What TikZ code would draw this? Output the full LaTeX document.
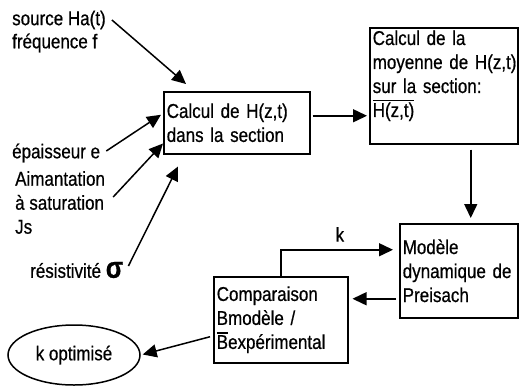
\documentclass[tikz,border=0pt]{standalone}
\usepackage{fontspec}
\setmainfont[FakeStretch=0.85, FakeBold=0.6]{Liberation Sans}
\usepackage{tikz}
\usetikzlibrary{positioning, shapes.geometric, arrows.meta, calc}
\newcommand{\ovl}[1]{\leavevmode\setbox0\hbox{#1}\rlap{\rule[\dimexpr\ht0+1.5pt\relax]{\wd0}{1.2pt}}\box0}

\begin{document}
\begin{tikzpicture}[x=1pt, y=-1pt,
        every node/.style={font=\fontsize{20}{24}\selectfont},
        box/.style={draw, line width=1.5pt, anchor=north west, align=left, inner xsep=3pt, inner ysep=2pt},
        lbl/.style={align=left, anchor=west, inner sep=0pt},
        arr/.style={-{Triangle[length=14pt,width=13pt]}, line width=1.5pt}]
        \useasboundingbox (0,0) rectangle (519,386);
        \node[box, text width=140pt, minimum height=62pt] (calc) at (163,91) {Calcul de H(z,t)\\dans la section};
        \node[box, text width=142pt, minimum height=116pt] (moy) at (369,27) {Calcul de la\\\mbox{moyenne de H(z,t)}\\sur la section:\\\ovl{H(z,t)}\\\mbox{}};
        \node[box, text width=112pt, minimum height=94pt] (preis) at (399,223) {Modèle\\\mbox{dynamique de}\\Preisach};
        \node[box, text width=128pt, minimum height=86pt] (comp) at (213,276) {Comparaison\\Bmodèle /\\\ovl{B}expérimental};
        \node[draw, ellipse, line width=1.5pt, minimum width=132pt, minimum height=60pt] (kopt) at (74,355) {k optimisé};
        \node[lbl] (src) at (12,20) {source Ha(t)};
        \node[lbl] (freq) at (12,43) {fréquence f};
        \node[lbl] (epais) at (12,153) {épaisseur e};
        \node[lbl, anchor=north west] (aim) at (15,171) {Aimantation\\à saturation\\Js};
        \node[lbl] (res) at (30,270) {résistivité {\fontsize{30}{30}\bfseries σ}};
        \draw[arr] ([xshift=6pt]src.east) -- ([shift={(23,-7)}]calc.north west);
        \draw[arr] ([shift={(6,-2)}]epais.east) -- ([shift={(-2,-8)}]calc.west);
        \draw[arr] ([shift={(8,26)}]aim.north east) -- ([shift={(0,-11)}]calc.south west);
        \draw[arr] ([shift={(5,-4)}]res.east) -- ([shift={(15,12)}]calc.south west);
        \draw[arr, shorten <=2pt, shorten >=2pt] ([yshift=7pt]calc.east) -- ([yshift=7pt]calc.east -| moy.west);
        \draw[arr, shorten <=5pt, shorten >=5pt] ([xshift=12pt]preis.north |- moy.south) -- ([xshift=12pt]preis.north);
        \draw[arr, shorten <=3pt, shorten >=4pt] ([yshift=-28pt]preis.west) -- ([yshift=-28pt]preis.west -| comp.east);
        \draw[arr, shorten >=6pt] (comp.north) |- ([yshift=21pt]preis.west) node[pos=0.75, above=4pt] {k};
        \draw[arr, shorten >=2pt] ([shift={(-3,17)}]comp.west) -- (kopt.east);
      \end{tikzpicture}
\end{document}
